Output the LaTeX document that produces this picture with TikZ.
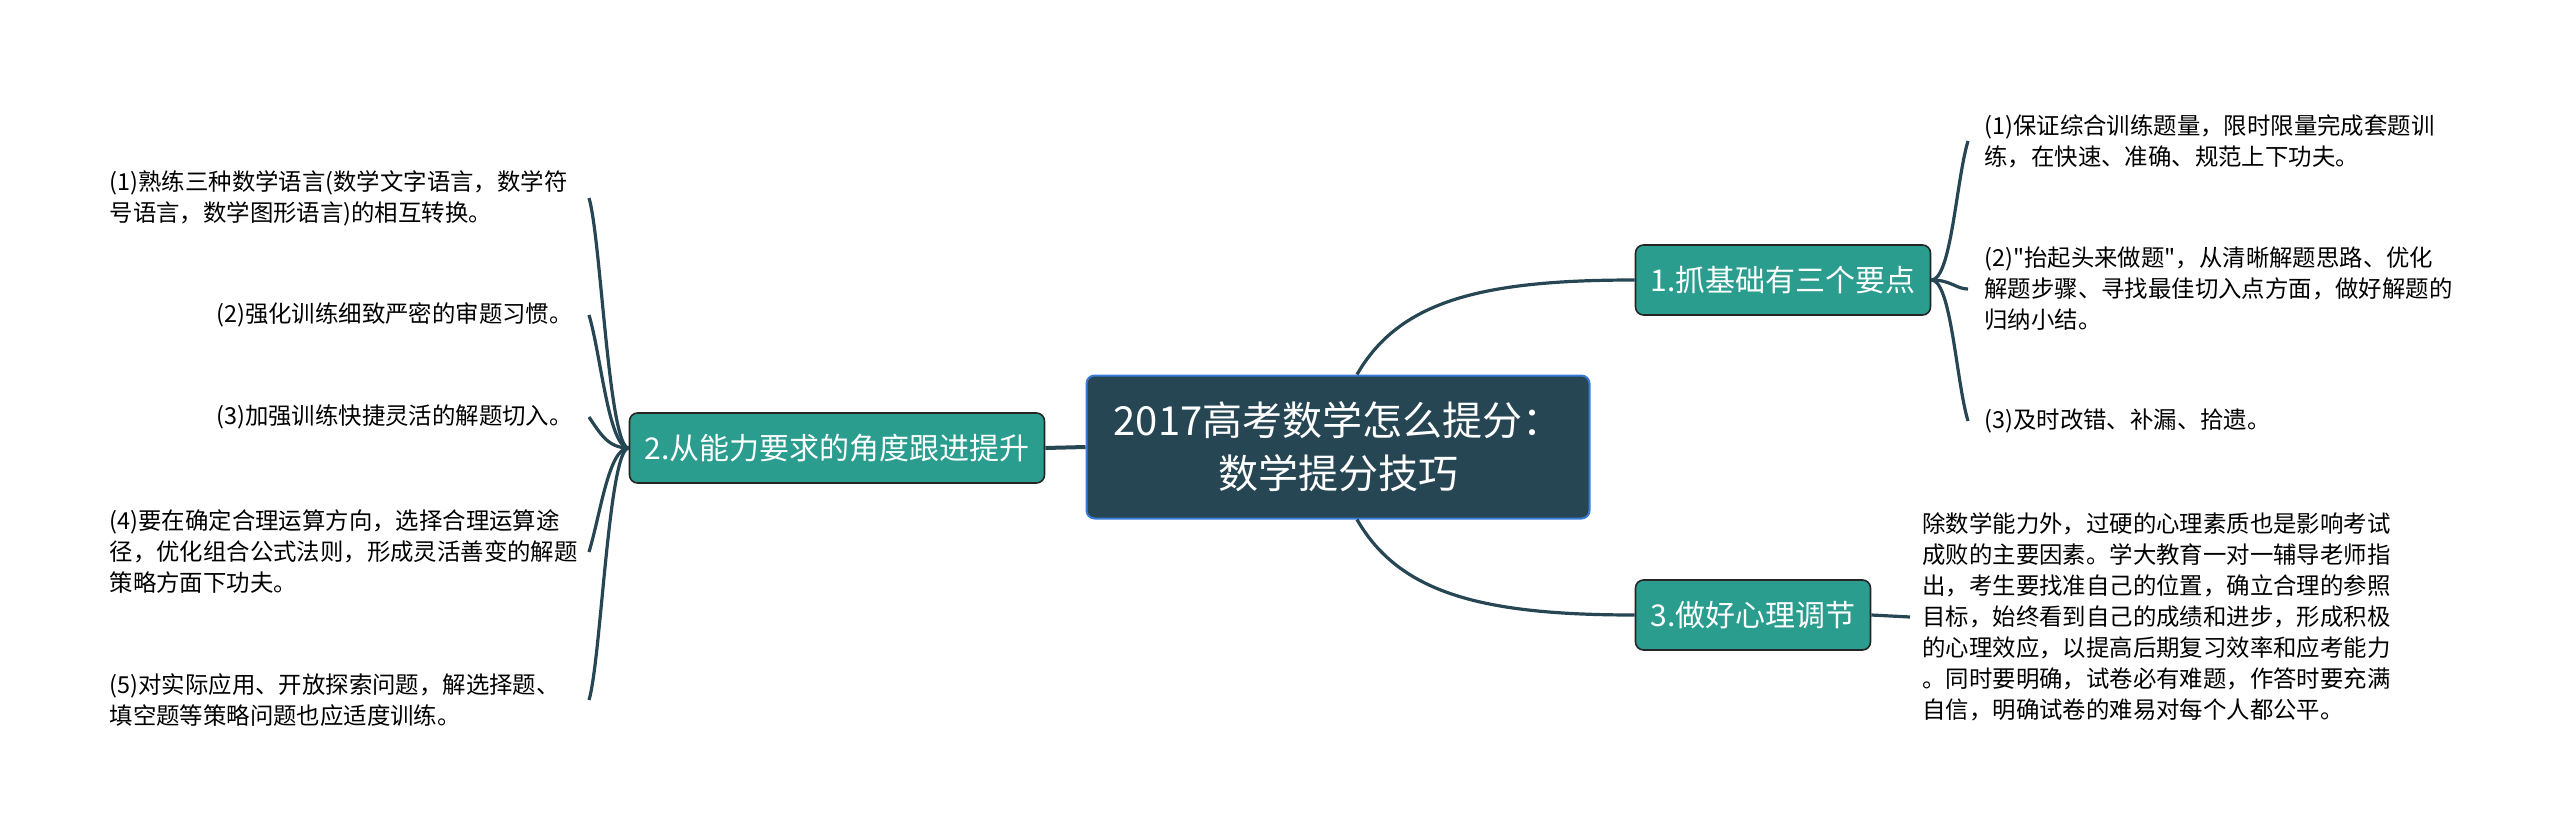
\documentclass[tikz,border=0pt]{standalone}
\usepackage{fontspec}
\newfontfamily\cjk{Noto Sans CJK SC}[Ligatures=TeXOff]
\definecolor{rootfill}{HTML}{264653}
\definecolor{rootedge}{HTML}{3A7BD5}
\definecolor{topicfill}{HTML}{2A9D8F}
\definecolor{linecol}{HTML}{264653}

\begin{document}
\begin{tikzpicture}[x=0.5pt, y=-0.5pt]
    \tikzstyle{rootbox}=[draw=rootedge, line width=1pt, fill=rootfill, rounded corners=4pt, text=white, align=center, minimum width=251.5pt, minimum height=71.5pt, font=\cjk\fontsize{20}{26.5}\selectfont]
    \tikzstyle{topicbox}=[draw=black!85, line width=0.8pt, fill=topicfill, rounded corners=4pt, text=white, minimum height=35pt, inner xsep=7.5pt, font=\cjk\fontsize{15}{18}\selectfont]
    \tikzstyle{leaf}=[align=left, inner xsep=8pt, inner ysep=2pt, font=\cjk\fontsize{11.7}{15.5}\selectfont]
    \tikzstyle{leftleaf}=[leaf, anchor=east, inner xsep=8pt]
    \tikzstyle{wideleaf}=[leftleaf, text width=231.5pt]
    \tikzstyle{branch}=[draw=linecol, line width=1.6pt]

    \useasboundingbox (0,0) rectangle (2560,840);

    % centre and main topics
    \node[rootbox] (root) at (1338,447) {2017高考数学怎么提分：\\数学提分技巧};
    \node[topicbox] (t1) at (1783,280) {1.抓基础有三个要点};
    \node[topicbox] (t2) at (837,448) {2.从能力要求的角度跟进提升};
    \node[topicbox] (t3) at (1753,615) {3.做好心理调节};

    % right side
    \node[leaf, anchor=west] (r1) at (1968,141) {(1)保证综合训练题量，限时限量完成套题训\\练，在快速、准确、规范上下功夫。};
    \node[leaf, anchor=west] (r2) at (1968,289) {(2)"抬起头来做题"，从清晰解题思路、优化\\解题步骤、寻找最佳切入点方面，做好解题的\\归纳小结。};
    \node[leaf, anchor=west] (r3) at (1968,421) {(3)及时改错、补漏、拾遗。};
    \node[leaf, anchor=west, inner xsep=6pt] (r4) at (1910,617) {除数学能力外，过硬的心理素质也是影响考试\\成败的主要因素。学大教育一对一辅导老师指\\出，考生要找准自己的位置，确立合理的参照\\目标，始终看到自己的成绩和进步，形成积极\\的心理效应，以提高后期复习效率和应考能力\\。同时要明确，试卷必有难题，作答时要充满\\自信，明确试卷的难易对每个人都公平。};

    % left side
    \node[wideleaf] (l1) at (589,198) {(1)熟练三种数学语言(数学文字语言，数学符\\号语言，数学图形语言)的相互转换。};
    \node[leftleaf] (l2) at (589,315) {(2)强化训练细致严密的审题习惯。};
    \node[leftleaf] (l3) at (589,417) {(3)加强训练快捷灵活的解题切入。};
    \node[wideleaf] (l4) at (589,552) {(4)要在确定合理运算方向，选择合理运算途\\径，优化组合公式法则，形成灵活善变的解题\\策略方面下功夫。};
    \node[wideleaf] (l5) at (589,700) {(5)对实际应用、开放探索问题，解选择题、\\填空题等策略问题也应适度训练。};

    \draw[branch, line width=2pt] (root.west) -- (t2.east);
    \draw[branch] ([xshift=9.5pt]root.north) .. controls +(43,-75) and +(-150,0) .. (t1.west);
    \draw[branch] ([xshift=9.5pt]root.south) .. controls +(43,75) and +(-150,0) .. (t3.west);
    \draw[branch] (t3.east) -- (r4.west);

    \foreach \n/\d in {r1/40, r2/0, r3/-40} {
        \draw[branch] (t1.east) .. controls +(20,0) and +(-12,\d) .. (\n.west);
    }
    \foreach \n/\d in {l1/40, l2/40, l3/18, l4/-40, l5/-40} {
        \draw[branch] (t2.west) .. controls +(-20,0) and +(12,\d) .. (\n.east);
    }
\end{tikzpicture}
\end{document}
